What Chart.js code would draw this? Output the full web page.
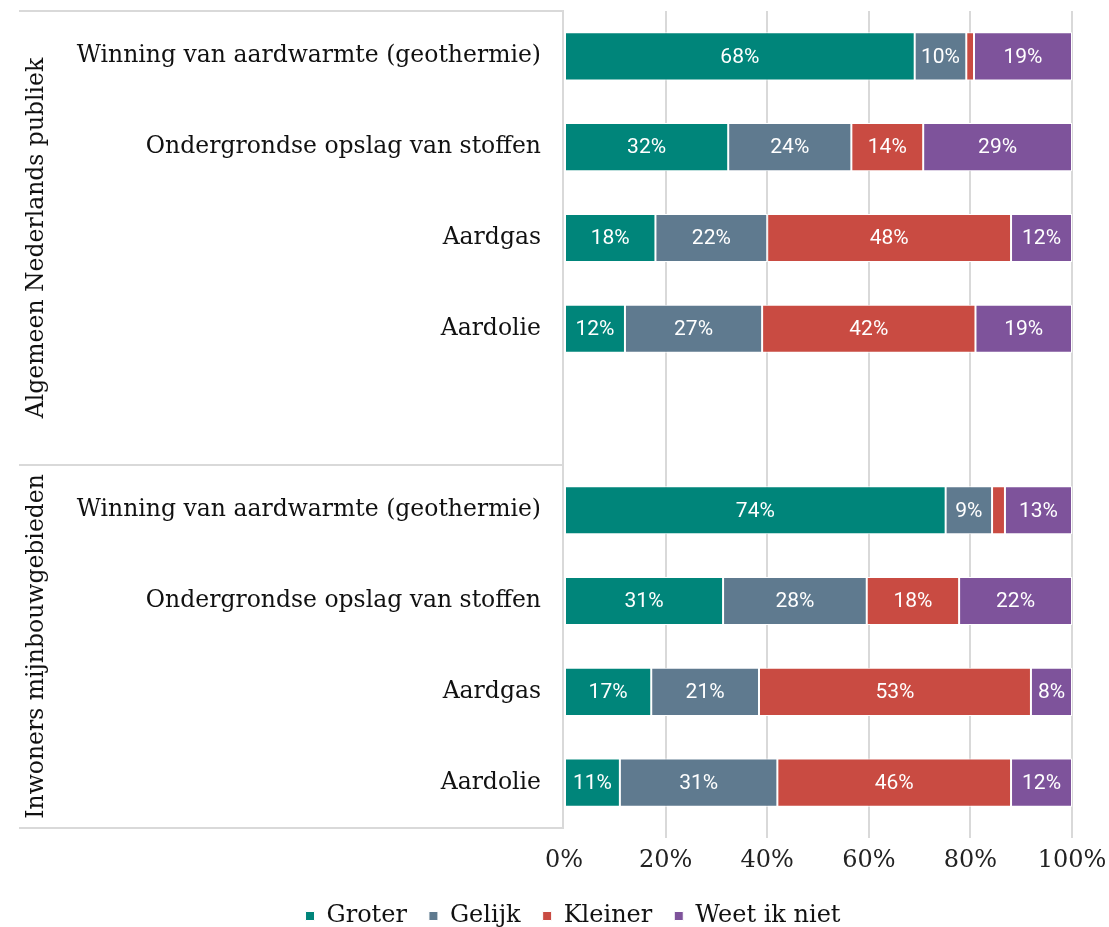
<!DOCTYPE html>
<html><head><meta charset="utf-8">
<script src="https://cdn.jsdelivr.net/npm/chart.js@4.4.1/dist/chart.umd.min.js"></script>
<style>html,body{margin:0;padding:0;background:#fff}</style>
</head><body>
<canvas id="c" width="1109" height="927"></canvas>
<script>
const categories = ["Winning van aardwarmte (geothermie)","Ondergrondse opslag van stoffen","Aardgas","Aardolie","","Winning van aardwarmte (geothermie)","Ondergrondse opslag van stoffen","Aardgas","Aardolie"];
const groups = ["Algemeen Nederlands publiek","Inwoners mijnbouwgebieden"];
const seriesNames = ["Groter","Gelijk","Kleiner","Weet ik niet"];
const groter   = [68, 32, 18, 12, null, 74, 31, 17, 11];
const gelijk   = [10, 24, 22, 27, null,  9, 28, 21, 31];
const kleiner  = [1.5,14, 48, 42, null, 2.5,18, 53, 46];
const weetNiet = [19, 29, 12, 19, null, 13, 22,  8, 12];
const xTicks = [0, 20, 40, 60, 80, 100];
const colors = ["#00857A","#5F7A8F","#C94B42","#7E539B"];

const series = [groter, gelijk, kleiner, weetNiet];
const rowSums = categories.map((_, j) => series.reduce((s, arr) => s + (arr[j] || 0), 0));
const serif = "'DejaVu Serif', serif";

const datasets = series.map((arr, i) => ({
  label: seriesNames[i],
  data: arr.map((v, j) => v == null ? null : v / rowSums[j] * 100),
  backgroundColor: colors[i],
  borderColor: '#ffffff',
  borderWidth: 1,
  borderSkipped: false,
  categoryPercentage: 1,
  barPercentage: 0.53
}));

const framePlugin = {
  id: 'frame',
  afterLayout(chart) {
    if (chart.legend) { chart.legend.left += 37; chart.legend.right += 37; }
  },
  beforeDatasetsDraw(chart) {
    const ctx = chart.ctx, ys = chart.scales.y, area = chart.chartArea;
    const top = ys.getPixelForValue(-0.5), mid = ys.getPixelForValue(4.5), bot = ys.getPixelForValue(8.5);
    ctx.save();
    ctx.strokeStyle = '#d9d9d9';
    ctx.lineWidth = 2;
    ctx.beginPath();
    [top, mid, bot].forEach(y => { ctx.moveTo(19, y); ctx.lineTo(area.left, y); });
    ctx.moveTo(area.left - 1, top - 1); ctx.lineTo(area.left - 1, bot + 1);
    ctx.stroke();
    ctx.restore();
  },
  afterDraw(chart) {
    const ctx = chart.ctx, ys = chart.scales.y;
    const top = ys.getPixelForValue(-0.5), mid = ys.getPixelForValue(4.5), bot = ys.getPixelForValue(8.5);
    const centers = [(top + mid) / 2, (mid + bot) / 2];
    ctx.save();
    ctx.fillStyle = '#111111';
    ctx.font = "23.5px " + serif;
    ctx.textAlign = 'center';
    ctx.textBaseline = 'middle';
    groups.forEach((g, k) => {
      ctx.save();
      ctx.translate(37, centers[k]);
      ctx.rotate(-Math.PI / 2);
      ctx.fillText(g, 0, 0);
      ctx.restore();
    });
    ctx.restore();
  }
};

const labelPlugin = {
  id: 'barLabels',
  afterDatasetsDraw(chart) {
    const ctx = chart.ctx;
    ctx.save();
    ctx.fillStyle = '#ffffff';
    ctx.font = "21px Roboto, sans-serif";
    ctx.textAlign = 'center';
    ctx.textBaseline = 'middle';
    series.forEach((arr, i) => {
      const meta = chart.getDatasetMeta(i);
      meta.data.forEach((bar, j) => {
        const raw = arr[j];
        if (raw == null || raw < 3) return;
        const p = bar.getProps(['x', 'base', 'y'], true);
        ctx.fillText(Math.round(raw) + '%', (p.x + p.base) / 2, p.y + 1);
      });
    });
    ctx.restore();
  }
};

new Chart(document.getElementById('c'), {
  type: 'bar',
  data: { labels: categories, datasets },
  plugins: [framePlugin, labelPlugin],
  options: {
    indexAxis: 'y',
    responsive: false,
    animation: false,
    devicePixelRatio: 1,
    layout: { padding: { top: 11, right: 37, left: 0, bottom: -11 } },
    plugins: {
      tooltip: { enabled: false },
      legend: {
        position: 'bottom',
        labels: {
          usePointStyle: true,
          pointStyle: 'rect',
          boxWidth: 9,
          boxHeight: 9,
          padding: 22,
          color: '#111111',
          font: { family: serif, size: 24 }
        }
      }
    },
    scales: {
      x: {
        stacked: true,
        min: 0,
        max: 100,
        afterBuildTicks(scale) { scale.ticks = xTicks.map(v => ({ value: v })); },
        afterFit(scale) { scale.height = 54; scale.paddingLeft = 0; scale.paddingRight = 0; },
        grid: {
          color: c => (c.tick && c.tick.value === 0) ? 'rgba(0,0,0,0)' : '#d9d9d9',
          lineWidth: 2,
          tickLength: 10,
          drawOnChartArea: true
        },
        border: { display: false },
        ticks: {
          color: '#222222',
          padding: 8,
          font: { family: serif, size: 24 },
          callback: v => v + '%'
        }
      },
      y: {
        stacked: true,
        grid: { display: false },
        border: { display: false },
        afterFit(scale) { scale.width = 564; scale.paddingTop = 0; scale.paddingBottom = 0; },
        ticks: {
          color: '#111111',
          padding: 15,
          font: { family: serif, size: 23.5 },
          autoSkip: false
        }
      }
    }
  }
});
</script>
</body></html>
